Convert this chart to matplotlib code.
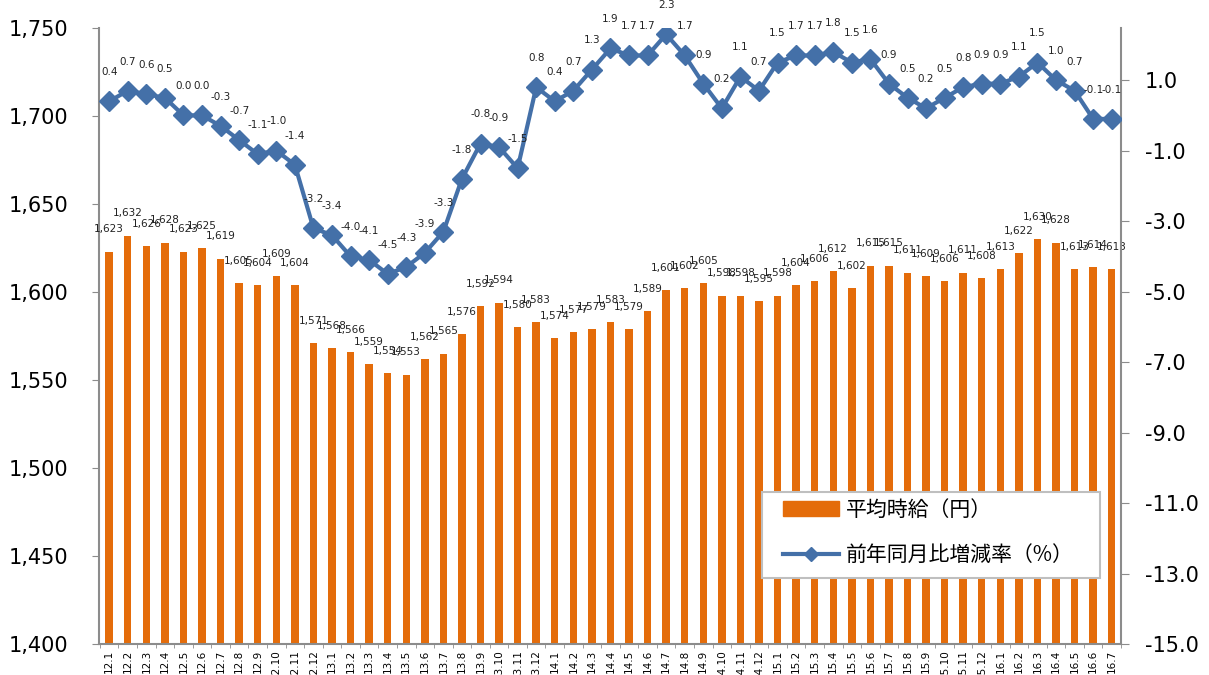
import numpy as np
import matplotlib.pyplot as plt
from matplotlib.lines import Line2D
from matplotlib.patches import Patch, Rectangle

plt.rcParams['font.family'] = ['DejaVu Sans', 'Noto Sans CJK JP']

months = ['12.1', '12.2', '12.3', '12.4', '12.5', '12.6', '12.7', '12.8', '12.9', '12.10', '12.11', '12.12',
          '13.1', '13.2', '13.3', '13.4', '13.5', '13.6', '13.7', '13.8', '13.9', '13.10', '13.11', '13.12',
          '14.1', '14.2', '14.3', '14.4', '14.5', '14.6', '14.7', '14.8', '14.9', '14.10', '14.11', '14.12',
          '15.1', '15.2', '15.3', '15.4', '15.5', '15.6', '15.7', '15.8', '15.9', '15.10', '15.11', '15.12',
          '16.1', '16.2', '16.3', '16.4', '16.5', '16.6', '16.7']

wage = [1623, 1632, 1626, 1628, 1623, 1625, 1619, 1605, 1604, 1609, 1604, 1571,
        1568, 1566, 1559, 1554, 1553, 1562, 1565, 1576, 1592, 1594, 1580, 1583,
        1574, 1577, 1579, 1583, 1579, 1589, 1601, 1602, 1605, 1598, 1598, 1595,
        1598, 1604, 1606, 1612, 1602, 1615, 1615, 1611, 1609, 1606, 1611, 1608,
        1613, 1622, 1630, 1628, 1613, 1614, 1613]

yoy = [0.4, 0.7, 0.6, 0.5, 0.0, 0.0, -0.3, -0.7, -1.1, -1.0, -1.4, -3.2,
       -3.4, -4.0, -4.1, -4.5, -4.3, -3.9, -3.3, -1.8, -0.8, -0.9, -1.5, 0.8,
       0.4, 0.7, 1.3, 1.9, 1.7, 1.7, 2.3, 1.7, 0.9, 0.2, 1.1, 0.7,
       1.5, 1.7, 1.7, 1.8, 1.5, 1.6, 0.9, 0.5, 0.2, 0.5, 0.8, 0.9,
       0.9, 1.1, 1.5, 1.0, 0.7, -0.1, -0.1]

bar_color = '#E46C0A'
line_color = '#4470A8'
spine_color = '#8C8C8C'

fig = plt.figure(figsize=(12.09, 6.75), dpi=100)
ax = fig.add_axes([99 / 1209, 31 / 675, 1022 / 1209, 616 / 675])
x = np.arange(len(months))

# bars: hourly wage
ax.bar(x, wage, width=0.4, color=bar_color, zorder=2)
ax.set_ylim(1400, 1750)
ax.set_xlim(-0.55, 54.45)
ax.set_yticks(np.arange(1400, 1751, 50))
ax.set_yticklabels([f'{v:,}' for v in range(1400, 1751, 50)], fontsize=15)
ax.set_xticks(x)
ax.set_xticklabels(months, rotation=90, fontsize=7.5, va='top')
ax.set_xticks(np.arange(-0.5, 54.6, 1), minor=True)
ax.tick_params(axis='x', which='major', length=0, pad=4)
ax.tick_params(axis='x', which='minor', length=3, color=spine_color)
ax.tick_params(axis='y', length=5, color=spine_color, direction='out', pad=17)
for s in ['top', 'right']:
    ax.spines[s].set_visible(False)
for s in ['left', 'bottom']:
    ax.spines[s].set_color(spine_color)
    ax.spines[s].set_linewidth(1.5)

for xi, v in zip(x, wage):
    ax.annotate(f'{v:,}', (xi, v), xytext=(0, 16), textcoords='offset points',
                ha='center', va='center', fontsize=7.5, color='#222222')

# line: year-over-year change
ax2 = ax.twinx()
ax2.plot(x, yoy, color=line_color, lw=3, marker='D', markersize=10, zorder=3)
ax2.set_ylim(-15, 2.48)
ax2.set_yticks(np.arange(-15, 1.1, 2))
ax2.set_yticklabels([f'{v:.1f}' for v in np.arange(-15, 1.1, 2)], fontsize=15)
ax2.tick_params(axis='y', length=6, color=spine_color, direction='out', pad=11)
for s in ['top', 'left', 'bottom']:
    ax2.spines[s].set_visible(False)
ax2.spines['right'].set_color(spine_color)
ax2.spines['right'].set_linewidth(1.5)

for xi, v in zip(x, yoy):
    ax2.annotate(f'{v:.1f}', (xi, v), xytext=(0, 21), textcoords='offset points',
                 ha='center', va='center', fontsize=7.5, color='#222222')

# legend box
box = Rectangle(((762 - 99) / 1022, (644 - 578) / 616), 338 / 1022, 86 / 616,
                transform=ax2.transAxes, facecolor='white', edgecolor='#BFBFBF',
                lw=1.5, zorder=4)
ax2.add_patch(box)
handles = [Patch(color=bar_color),
           Line2D([], [], color=line_color, lw=3, marker='D', markersize=7)]
leg = ax2.legend(handles, ['平均時給（円）', '前年同月比増減率（%）'],
                 loc='upper left', bbox_to_anchor=((783 - 99) / 1022, (644 - 499) / 616),
                 frameon=False, borderpad=0, borderaxespad=0,
                 handlelength=2.7, handleheight=0.7, handletextpad=0.3, labelspacing=1.1,
                 prop={'family': ['Noto Sans CJK JP', 'DejaVu Sans'], 'size': 15})
leg.set_zorder(5)

fig.savefig('out.png', dpi=100)
